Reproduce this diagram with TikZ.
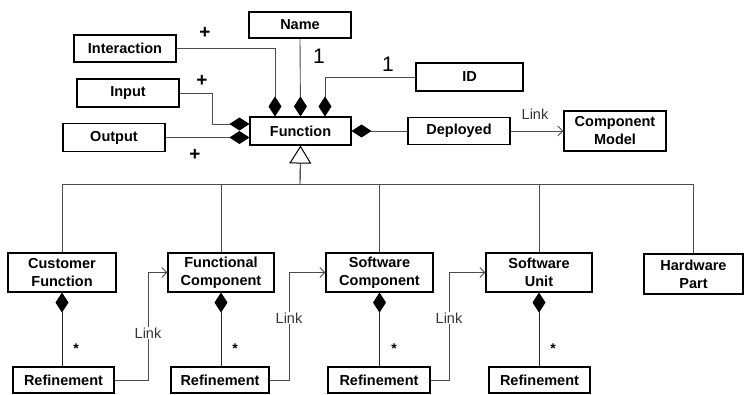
\documentclass[tikz,border=0pt]{standalone}
\usepackage{fontspec}
\setmainfont{Liberation Sans}
\usetikzlibrary{arrows.meta}

\tikzset{
  cls/.style={draw=black, line width=1.1pt, fill=white, align=center,
    inner sep=0pt, font=\bfseries\fontsize{14.5}{18}\selectfont},
  conn/.style={draw=black!70, line width=0.9pt},
  comp/.style={{Diamond[black,length=20pt,width=13pt]}-},
  compend/.style={-{Diamond[black,length=20pt,width=13pt]}},
  inherit/.style={-{Triangle[open,black,fill=white,length=18pt,width=22pt,line width=1pt]}},
  linkarrow/.style={-{Straight Barb[black!70,length=5pt,width=10pt]}},
  mult/.style={font=\fontsize{21}{21}\selectfont, inner sep=0pt},
  plus/.style={font=\bfseries\fontsize{19}{19}\selectfont, inner sep=0pt},
  star/.style={font=\bfseries\fontsize{14}{14}\selectfont, inner sep=0pt},
  linklabel/.style={font=\fontsize{14.5}{14.5}\selectfont, text=black!80,
    fill=white, inner sep=1pt},
}

\begin{document}
\begin{tikzpicture}[x=1pt, y=-1pt]
\useasboundingbox (0,0) rectangle (744,394);

% attribute classes around Function
\node[cls, minimum width=102pt, minimum height=26pt] (name)  at (300,25)    {Name};
\node[cls, minimum width=102pt, minimum height=27pt] (inter) at (125,48.5)  {Interaction};
\node[cls, minimum width=102pt, minimum height=28pt] (input) at (128,93)    {Input};
\node[cls, minimum width=102pt, minimum height=28pt] (output) at (114,137.5) {Output};
\node[cls, minimum width=101pt, minimum height=28pt] (func)  at (300.5,131) {Function};
\node[cls, minimum width=107pt, minimum height=28pt] (id)    at (469.5,77)  {ID};
\node[cls, minimum width=102pt, minimum height=27pt] (depl)  at (459,131)   {Deployed};
\node[cls, minimum width=102pt, minimum height=40pt] (cmodel) at (615,131)  {Component\\Model};

% specialised functions
\node[cls, minimum width=108pt, minimum height=39pt] (cf) at (62,272.5)    {Customer\\Function};
\node[cls, minimum width=106pt, minimum height=39pt] (fc) at (221,272.5)   {Functional\\Component};
\node[cls, minimum width=107pt, minimum height=39pt] (sc) at (379.5,272.5) {Software\\Component};
\node[cls, minimum width=106pt, minimum height=39pt] (su) at (539,272.5)   {Software\\Unit};
\node[cls, minimum width=99pt,  minimum height=40pt] (hw) at (693.5,274)   {Hardware\\Part};

% refinements
\node[cls, minimum width=101pt, minimum height=26pt] (r1) at (63.5,380)  {Refinement};
\node[cls, minimum width=98pt,  minimum height=26pt] (r2) at (220,380)   {Refinement};
\node[cls, minimum width=102pt, minimum height=26pt] (r3) at (379,380)   {Refinement};
\node[cls, minimum width=101pt, minimum height=26pt] (r4) at (539.5,380) {Refinement};

% compositions into Function
\draw[conn, compend] (inter.east) -| (func.north -| 275,0);
\draw[conn, compend] (name.south) -- (func.north);
\draw[conn, compend] (id.west) -| (func.north -| 325,0);
\draw[conn, compend] (input.east) -- (212,93) |- (func.west |- 0,124);
\draw[conn, compend] (output.east) -- (func.west |- output.east);
\draw[conn, comp] (func.east) -- (depl.west);
\draw[conn, linkarrow] (depl.east) -- (cmodel.west);

% multiplicities
\node[plus] at (205,33) {+};
\node[plus] at (202,81) {+};
\node[plus] at (195,155) {+};
\node[mult] at (319,56) {1};
\node[mult] at (388,64) {1};
\node[linklabel, fill=none] at (535,114) {Link};

% generalisation tree
\coordinate (bar) at (300,184);
\draw[conn, inherit, draw=black] (bar) -- (func.south);
\foreach \c in {cf,fc,sc,su,hw}
  \draw[conn] (\c.north) |- (bar);

% refinement compositions
\foreach \c/\r in {cf/r1,fc/r2,sc/r3,su/r4}
  \draw[conn, comp, draw=black!85] (\c.south) -- (\c.south |- \r.north);
\node[star] at (76,349) {*};
\node[star] at (235,349) {*};
\node[star] at (394,349) {*};
\node[star] at (553,349) {*};

% links between refinements and the next level
\draw[conn, linkarrow] (r1.east) -- (148,380) |- (fc.west);
\draw[conn, linkarrow] (r2.east) -- (289,380) |- (sc.west);
\draw[conn, linkarrow] (r3.east) -- (449,380) |- (su.west);
\node[linklabel] at (148,333) {Link};
\node[linklabel] at (289,318) {Link};
\node[linklabel] at (449,318) {Link};
\end{tikzpicture}
\end{document}
